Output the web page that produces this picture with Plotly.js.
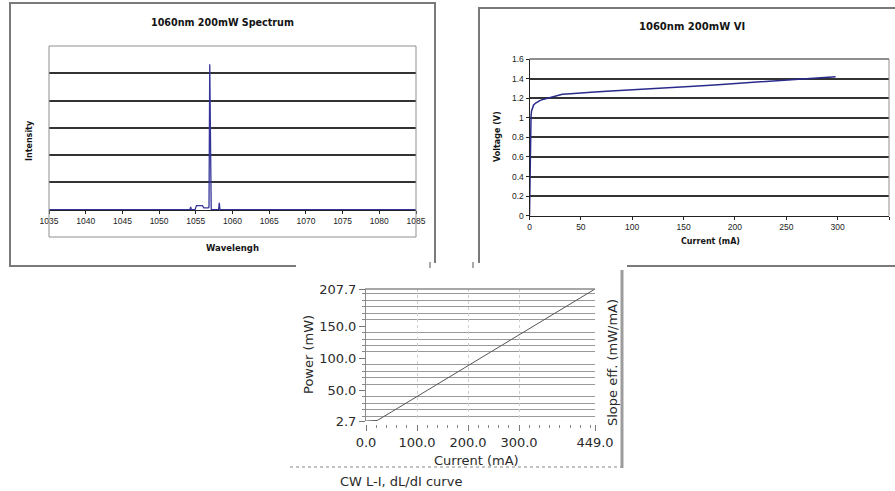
<!DOCTYPE html>
<html>
<head>
<meta charset="utf-8">
<script src="https://cdn.plot.ly/plotly-3.0.1.min.js"></script>
<style>
html,body{margin:0;padding:0;background:#fff;}
#chart{width:895px;height:491px;}
</style>
</head>
<body>
<div id="chart"></div>
<script>
// ---------- Data: 1060nm 200mW Spectrum ----------
const specWavelength = [1035, 1054.2, 1054.3, 1054.4, 1054.9, 1055.1, 1055.9, 1056.1, 1056.7, 1056.8, 1056.9, 1057.0, 1057.1, 1058.1, 1058.2, 1058.3, 1085];
const specIntensity  = [0,    0,      0.1,    0,      0,      0.15,   0.15,   0.07,   0.07,   0.1,    5.33,   0.05,   0,      0,      0.25,   0,      0];
const specXTicks = [1035, 1040, 1045, 1050, 1055, 1060, 1065, 1070, 1075, 1080, 1085];
const specGridLevels = [1, 2, 3, 4, 5];

// ---------- Data: 1060nm 200mW VI ----------
const viCurrent = [0, 0.5, 1, 1.5, 2, 3, 4, 6, 8, 10, 14, 18, 22, 27, 32, 40, 50, 60, 75, 90, 100, 120, 140, 160, 180, 200, 220, 240, 260, 280, 295, 298];
const viVoltage = [0, 0.5, 0.9, 1.02, 1.07, 1.11, 1.13, 1.15, 1.165, 1.175, 1.19, 1.2, 1.215, 1.23, 1.24, 1.245, 1.255, 1.26, 1.27, 1.278, 1.284, 1.296, 1.31, 1.322, 1.335, 1.35, 1.362, 1.375, 1.39, 1.405, 1.42, 1.42];
const viXTicks = [0, 50, 100, 150, 200, 250, 300, 350];
const viYTicks = [0, 0.2, 0.4, 0.6, 0.8, 1, 1.2, 1.4, 1.6];
const viYTickText = ['0', '0.2', '0.4', '0.6', '0.8', '1', '1.2', '1.4', '1.6'];

// ---------- Data: CW L-I curve ----------
const liCurrent = [0, 10, 20, 22, 50, 100, 150, 200, 250, 300, 350, 400, 449];
const liPower   = [2.7, 2.7, 2.7, 3.5, 16.8, 40.7, 64.7, 88.6, 112.5, 136.4, 160.3, 184.2, 207.7];
const liXTickVals = [0, 100, 200, 300, 449];
const liXTickText = ['0.0', '100.0', '200.0', '300.0', '449.0'];
const liYTickVals = [2.7, 50, 100, 150, 207.7];
const liYTickText = ['2.7', '50.0', '100.0', '150.0', '207.7'];
const liDottedLevels = [50, 100, 150];
const liMinorLevels = [10, 20, 30, 40, 60, 70, 80, 90, 110, 120, 130, 140, 160, 170, 180, 190, 200];

// ---------- helpers (pixel -> paper) ----------
const W = 895, H = 491;
const px = v => v / W;
const py = v => 1 - v / H;

const excelFont = {family: 'DejaVu Sans, Verdana, sans-serif', color: '#141414'};
const tickFontSmall = {family: 'Liberation Sans, Arial, sans-serif', size: 8.5, color: '#222'};
const liFont = {family: 'DejaVu Sans, Verdana, sans-serif', size: 13, color: '#2a2a2a'};

const traces = [
  {x: specWavelength, y: specIntensity, xaxis: 'x', yaxis: 'y', type: 'scatter', mode: 'lines',
   line: {color: '#34349a', width: 1.3}, hoverinfo: 'skip'},
  {x: viCurrent, y: viVoltage, xaxis: 'x2', yaxis: 'y2', type: 'scatter', mode: 'lines',
   line: {color: '#2a2a8c', width: 1.5}, hoverinfo: 'skip'},
  {x: liCurrent, y: liPower, xaxis: 'x3', yaxis: 'y3', type: 'scatter', mode: 'lines',
   line: {color: '#555', width: 1}, hoverinfo: 'skip'}
];

function ann(text, x, y, size, opts) {
  return Object.assign({text: text, x: px(x), y: py(y), xref: 'paper', yref: 'paper',
    showarrow: false, xanchor: 'center', yanchor: 'middle',
    font: Object.assign({}, excelFont, {size: size})}, opts || {});
}

const layout = {
  width: W, height: H,
  margin: {l: 0, r: 0, t: 0, b: 0, pad: 0},
  paper_bgcolor: '#fff', plot_bgcolor: '#fff',
  showlegend: false,
  // Spectrum
  xaxis: {domain: [px(49), px(416)], range: [1035, 1085], anchor: 'free', position: py(210),
          tickvals: specXTicks, ticks: 'outside', ticklen: 3, tickcolor: '#222',
          showline: true, linecolor: '#222', linewidth: 1, showgrid: false, zeroline: false,
          tickfont: tickFontSmall},
  yaxis: {domain: [py(237), py(46)], range: [-1, 6], anchor: 'x',
          tickvals: specGridLevels, showticklabels: false, ticks: '',
          showgrid: true, gridcolor: '#333', gridwidth: 2, zeroline: false, showline: false},
  // VI
  xaxis2: {domain: [px(529.5), px(889)], range: [0, 350], anchor: 'y2',
           tickvals: viXTicks, ticks: 'outside', ticklen: 3, tickcolor: '#222',
           showline: true, linecolor: '#222', linewidth: 1, showgrid: false, zeroline: false,
           tickfont: tickFontSmall},
  yaxis2: {domain: [py(215.7), py(59)], range: [0, 1.6], anchor: 'x2',
           tickvals: viYTicks, ticktext: viYTickText, ticks: 'outside', ticklen: 3, tickcolor: '#222',
           showline: true, linecolor: '#222', linewidth: 1,
           showgrid: true, gridcolor: '#333', gridwidth: 2, zeroline: false,
           tickfont: tickFontSmall},
  // L-I
  xaxis3: {domain: [px(366), px(595)], range: [0, 449], anchor: 'free', position: py(424),
           tickvals: liXTickVals, ticktext: liXTickText, ticks: 'outside', ticklen: 6, tickcolor: '#777',
           minor: {tick0: 0, dtick: 20, ticks: 'outside', ticklen: 3, tickcolor: '#888', showgrid: false},
           showline: false, showgrid: true, gridcolor: '#cfcfcf', griddash: 'dot', zeroline: false,
           tickfont: liFont},
  yaxis3: {domain: [py(421), py(289)], range: [2.7, 207.7], anchor: 'x3',
           tickvals: liYTickVals, ticktext: liYTickText, ticks: 'outside', ticklen: 6, tickcolor: '#777',
           showline: true, linecolor: '#8a8a8a', linewidth: 1, showgrid: false, zeroline: false,
           minor: {tickmode: 'array', tickvals: liMinorLevels, ticks: 'outside', ticklen: 3, tickcolor: '#888',
                   showgrid: true, gridcolor: '#999', gridwidth: 1},
           tickfont: liFont},
  yaxis4: {overlaying: 'y3', anchor: 'x3', side: 'right', range: [2.7, 207.7],
           tickvals: liDottedLevels, showticklabels: false, ticks: '',
           showgrid: true, gridcolor: '#555', griddash: 'dot', gridwidth: 1,
           zeroline: false, showline: false},
  shapes: [
    // chart frames
    {type: 'rect', xref: 'paper', yref: 'paper', x0: px(10), x1: px(435), y0: py(266), y1: py(3),
     line: {color: '#7a7a7a', width: 2}, layer: 'below'},
    {type: 'rect', xref: 'paper', yref: 'paper', x0: px(479), x1: px(915), y0: py(266), y1: py(8),
     line: {color: '#7a7a7a', width: 2}, layer: 'below'},
    // white area of the pasted L-I picture
    {type: 'rect', xref: 'paper', yref: 'paper', x0: px(296), x1: px(627), y0: py(491), y1: py(263),
     fillcolor: '#fff', line: {width: 0}, layer: 'below'},
    // spectrum plot-area border
    {type: 'rect', xref: 'paper', yref: 'paper', x0: px(49), x1: px(416), y0: py(237), y1: py(46),
     line: {color: '#8f8f8f', width: 1}, layer: 'above'},
    // VI plot-area top / right border
    {type: 'line', xref: 'paper', yref: 'paper', x0: px(529.5), x1: px(889), y0: py(59), y1: py(59),
     line: {color: '#8f8f8f', width: 2}, layer: 'above'},
    {type: 'line', xref: 'paper', yref: 'paper', x0: px(889), x1: px(889), y0: py(59), y1: py(215.7),
     line: {color: '#8f8f8f', width: 1}, layer: 'above'},
    // L-I top border
    {type: 'line', xref: 'paper', yref: 'paper', x0: px(365), x1: px(595), y0: py(289), y1: py(289),
     line: {color: '#8a8a8a', width: 1.5}, layer: 'above'},
    // L-I separator + right bar
    {type: 'line', xref: 'paper', yref: 'paper', x0: px(290), x1: px(625), y0: py(467), y1: py(467),
     line: {color: '#b0b0b0', width: 1.5, dash: 'dot'}, layer: 'below'},
    {type: 'line', xref: 'paper', yref: 'paper', x0: px(622), x1: px(622), y0: py(270), y1: py(468),
     line: {color: '#9c9c9c', width: 3}, layer: 'below'},
    // small marks on the top edge of the pasted picture
    {type: 'line', xref: 'paper', yref: 'paper', x0: px(430), x1: px(430), y0: py(262), y1: py(268),
     line: {color: '#555', width: 1}, layer: 'below'},
    {type: 'line', xref: 'paper', yref: 'paper', x0: px(473), x1: px(473), y0: py(262), y1: py(268),
     line: {color: '#555', width: 1}, layer: 'below'}
  ],
  annotations: [
    ann('<b>1060nm 200mW Spectrum</b>', 222, 22, 9.6),
    ann('<b>Intensity</b>', 29, 141, 8, {textangle: -90}),
    ann('<b>Wavelengh</b>', 232.5, 248, 8.5),
    ann('<b>1060nm 200mW VI</b>', 692, 27, 10),
    ann('<b>Voltage (V)</b>', 497, 137, 8, {textangle: -90}),
    ann('<b>Current (mA)</b>', 710, 241, 8),
    Object.assign(ann('Power (mW)', 308, 355, 13, {textangle: -90}), {font: liFont}),
    Object.assign(ann('Slope eff. (mW/mA)', 612, 363, 13, {textangle: -90}), {font: liFont}),
    Object.assign(ann('Current (mA)', 476, 460, 13), {font: liFont}),
    Object.assign(ann('CW L-I, dL/dI curve', 338, 481, 13, {xanchor: 'left'}), {font: liFont})
  ]
};

Plotly.newPlot('chart', traces, layout, {staticPlot: true, displayModeBar: false});
</script>
</body>
</html>
